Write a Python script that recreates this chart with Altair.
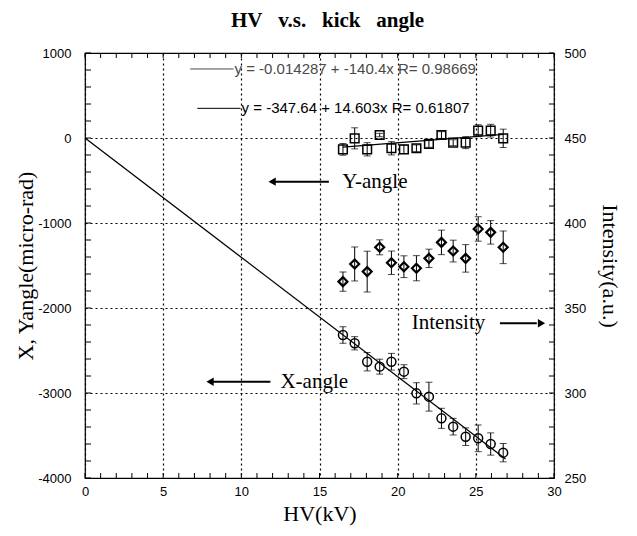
import altair as alt
import pandas as pd

W, H = 469, 425
SERIF = "Liberation Serif"
SANS = "Liberation Sans"

# ---- data ----
hv = [16.5, 17.25, 18.05, 18.85, 19.6, 20.4, 21.2, 22.0, 22.8, 23.55, 24.35, 25.15, 25.95, 26.75]
x_angle = [-2318, -2415, -2632, -2690, -2632, -2749, -3004, -3043, -3298, -3396, -3514, -3533, -3600, -3702]
x_err = [98, 78, 108, 88, 98, 82, 125, 170, 118, 98, 104, 157, 131, 108]
y_angle = [-133, -4, -133, 35, -121, -133, -121, -70, 35, -55, -55, 86, 86, -4]
y_err = [69, 124, 78, 20, 78, 50, 40, 40, 40, 35, 70, 70, 75, 108]
intensity = [365.5, 375.9, 371.4, 385.7, 376.6, 374.3, 373.4, 379.2, 388.6, 383.5, 379.2, 396.5, 394.5, 385.7]
int_err = [5.7, 10, 12, 4.4, 6.9, 6.4, 7.4, 5.4, 7.2, 6.4, 8.1, 7.2, 6.9, 9.6]

# fit lines (end points)
xfit_hv = [0, 26.9]
xfit_val = [0, -3777]
yfit_hv = [16.5, 26.75]
yfit_val = [-107, 43]

# legend entries
leg_text = ["y = -0.014287 + -140.4x R= 0.98669", "y = -347.64 + 14.603x R= 0.61807"]
leg_x1 = [6.73, 7.18]
leg_x2 = [9.5, 9.95]
leg_y = [812, 349]
leg_color = ["#4a4a4a", "black"]

# annotations
ann_text = ["Y-angle", "Intensity", "X-angle"]
ann_x = [16.45, 20.9, 12.5]
ann_y = [-514, -2180, -2867]
arr_x1 = [11.97, 26.54, 8.0]
arr_x2 = [15.6, 28.9, 11.86]
arr_y = [-514, -2180, -2867]
head_x = [11.97, 29.2, 8.0]
head_shape = ["triangle-left", "triangle-right", "triangle-left"]

x_ticks_major = [0, 5, 10, 15, 20, 25, 30]
x_ticks_minor = list(range(0, 31))
yl_ticks_major = [-4000, -3000, -2000, -1000, 0, 1000]
yl_ticks_minor = list(range(-4000, 1001, 200))
yr_ticks_major = [250, 300, 350, 400, 450, 500]
yr_ticks_minor = list(range(250, 501, 10))

df = pd.DataFrame({"hv": hv, "xa": x_angle, "xe": x_err, "ya": y_angle, "ye": y_err,
                   "it": intensity, "ie": int_err})
df["xa_lo"] = df.xa - df.xe
df["xa_hi"] = df.xa + df.xe
df["ya_lo"] = df.ya - df.ye
df["ya_hi"] = df.ya + df.ye
df["it_lo"] = df.it - df.ie
df["it_hi"] = df.it + df.ie

xfit = pd.DataFrame({"hv": xfit_hv, "v": xfit_val})
yfit = pd.DataFrame({"hv": yfit_hv, "v": yfit_val})
leg = pd.DataFrame({"t": leg_text, "x1": leg_x1, "x2": leg_x2, "y": leg_y, "c": leg_color})
ann = pd.DataFrame({"t": ann_text, "x": ann_x, "y": ann_y})
arr = pd.DataFrame({"x1": arr_x1, "x2": arr_x2, "y": arr_y, "hx": head_x, "shape": head_shape})
tx = pd.DataFrame({"v": x_ticks_minor})
tyl = pd.DataFrame({"v": yl_ticks_minor})
tyr = pd.DataFrame({"v": yr_ticks_minor})

xs = alt.Scale(domain=[0, 30], nice=False, zero=False)
yl = alt.Scale(domain=[-4000, 1000], nice=False, zero=False)
yr = alt.Scale(domain=[250, 500], nice=False, zero=False)


def X(f, axis=None):
    return alt.X(f, type="quantitative", scale=xs, axis=axis)


def YL(f, axis=None):
    return alt.Y(f, type="quantitative", scale=yl, axis=axis)


def YR(f, axis=None):
    return alt.Y(f, type="quantitative", scale=yr, axis=axis)


common = dict(ticks=False, domain=False,
              labelFont=SANS, labelFontSize=13, labelColor="black", labelFlush=False, labelOverlap=False,
              labelExpr="'' + datum.value",
              titleFont=SERIF, titleFontSize=22, titleFontWeight="normal", titleColor="black")
grid = dict(grid=True, gridColor="black", gridDash=[2, 3], gridWidth=1.2)

base = alt.Chart(df).mark_point(opacity=0).encode(
    x=X("hv", alt.Axis(values=x_ticks_major, orient="bottom", title="HV(kV)", labelPadding=7,
                       titlePadding=5, **common, **grid)),
    y=YL("xa", alt.Axis(values=yl_ticks_major, orient="left", title="X, Yangle(micro-rad)",
                        labelPadding=14, titlePadding=0, **common, **grid)),
)
right_axis = alt.Chart(df).mark_point(opacity=0).encode(
    x=X("hv"),
    y=YR("it", alt.Axis(values=yr_ticks_major, orient="right", title="Intensity(a.u.)",
                        labelPadding=10, titlePadding=12, titleAngle=90, grid=False, **common)),
)

# inward frame ticks
tk = dict(color="black", strokeWidth=1)
ticks_bottom = alt.Chart(tx).mark_rule(**tk).encode(x=X("v"), y=alt.value(H), y2=alt.value(H - 5))
ticks_top = alt.Chart(tx).mark_rule(**tk).encode(x=X("v"), y=alt.value(0), y2=alt.value(5))
ticks_left = alt.Chart(tyl).mark_rule(**tk).encode(y=YL("v"), x=alt.value(0), x2=alt.value(6))
ticks_right = alt.Chart(tyr).mark_rule(**tk).encode(y=YR("v"), x=alt.value(W), x2=alt.value(W - 5))


def errbars(lo, hi, ychan):
    rule = alt.Chart(df).mark_rule(color="black", strokeWidth=1).encode(
        x=X("hv"), y=ychan(lo), y2=alt.Y2(hi))
    cap_lo = alt.Chart(df).mark_tick(orient="horizontal", size=7, thickness=1, color="black").encode(
        x=X("hv"), y=ychan(lo))
    cap_hi = alt.Chart(df).mark_tick(orient="horizontal", size=7, thickness=1, color="black").encode(
        x=X("hv"), y=ychan(hi))
    return [rule, cap_lo, cap_hi]


xfit_line = alt.Chart(xfit).mark_line(color="black", strokeWidth=1.3).encode(x=X("hv"), y=YL("v"))
yfit_line = alt.Chart(yfit).mark_line(color="black", strokeWidth=1.3).encode(x=X("hv"), y=YL("v"))

x_pts = alt.Chart(df).mark_point(shape="circle", filled=False, size=80, strokeWidth=1.5,
                                  color="black", opacity=1).encode(x=X("hv"), y=YL("xa"))
y_pts = alt.Chart(df).mark_point(shape="square", filled=False, size=75, strokeWidth=1.5,
                                  color="black", opacity=1).encode(x=X("hv"), y=YL("ya"))
i_pts = alt.Chart(df).mark_point(shape="diamond", filled=False, size=80, strokeWidth=2.2,
                                  color="black", opacity=1).encode(x=X("hv"), y=YR("it"))

leg_lines = alt.Chart(leg).mark_rule(strokeWidth=1).encode(
    x=X("x1"), x2="x2", y=YL("y"), color=alt.Color("c:N", scale=None))
leg_texts = alt.Chart(leg).mark_text(font=SANS, fontSize=15, align="left", baseline="middle", dx=1).encode(
    x=X("x2"), y=YL("y"), text="t:N", color=alt.Color("c:N", scale=None))

ann_texts = alt.Chart(ann).mark_text(font=SERIF, fontSize=21, align="left", baseline="middle",
                                     color="black").encode(x=X("x"), y=YL("y"), text="t:N")
arr_lines = alt.Chart(arr).mark_rule(color="black", strokeWidth=2).encode(x=X("x1"), x2="x2", y=YL("y"))
arr_heads = alt.Chart(arr).mark_point(filled=True, color="black", size=70, opacity=1).encode(
    x=X("hx"), y=YL("y"), shape=alt.Shape("shape:N", scale=None))

layers = [base, right_axis, ticks_bottom, ticks_top, ticks_left, ticks_right,
          xfit_line, yfit_line]
layers += errbars("xa_lo", "xa_hi", YL)
layers += errbars("ya_lo", "ya_hi", YL)
layers += errbars("it_lo", "it_hi", YR)
layers += [x_pts, y_pts, i_pts, leg_lines, leg_texts, ann_texts, arr_lines, arr_heads]

NB = "\u00a0\u00a0\u00a0"
chart = alt.layer(*layers).resolve_scale(x="independent", y="independent").resolve_axis(
    x="independent", y="independent"
).properties(
    width=W, height=H,
    title=alt.TitleParams(f"HV{NB}v.s.{NB}kick{NB}angle", font=SERIF, fontSize=21, fontWeight="bold",
                          anchor="middle", color="black", dx=8, offset=16),
    autosize=alt.AutoSizeParams(type="none"),
    padding={"left": 77, "top": 45, "right": 75, "bottom": 50},
).configure_view(stroke="black", strokeWidth=1.2)

chart.save("out.html", embed_options={"renderer": "svg", "actions": False})
